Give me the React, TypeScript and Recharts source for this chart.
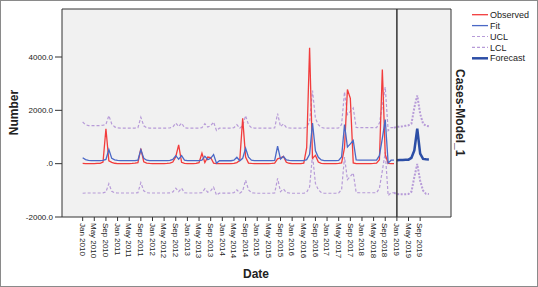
import React from "react";
import { LineChart, Line, XAxis, YAxis, CartesianGrid, ReferenceLine, ReferenceArea } from "recharts";

// month index 0 = Jan 2010
const TICK_MONTHS = [0,4,8,12,16,20,24,28,32,36,40,44,48,52,56,60,64,68,72,76,80,84,88,92,96,100,104,108,112,116];
const TICK_LABELS = [
  "Jan 2010","May 2010","Sep 2010","Jan 2011","May 2011","Sep 2011","Jan 2012","May 2012","Sep 2012",
  "Jan 2013","May 2013","Sep 2013","Jan 2014","May 2014","Sep 2014","Jan 2015","May 2015","Sep 2015",
  "Jan 2016","May 2016","Sep 2016","Jan 2017","May 2017","Sep 2017","Jan 2018","May 2018","Sep 2018",
  "Jan 2019","May 2019","Sep 2019",
];
const Y_TICKS = [-2000, 0, 2000, 4000];
const Y_TICK_LABELS = ["-2000.0", ".0", "2000.0", "4000.0"];

// Jan 2010 .. Dec 2018
const OBSERVED = [
  10,5,5,5,5,10,10,60,1310,110,50,15,
  5,5,5,5,5,10,20,40,560,70,20,10,
  5,5,5,5,5,10,20,60,260,705,50,10,
  5,5,5,10,40,390,40,250,230,20,5,5,
  5,5,5,5,10,40,120,1700,250,20,10,5,
  5,5,5,5,5,10,20,180,220,270,50,15,
  5,5,5,5,20,600,4350,200,310,60,10,5,
  5,5,5,5,10,30,600,2780,2450,30,5,5,
  5,5,5,5,10,20,150,3530,350,10,5,5,
];
const FIT = [
  220,150,120,115,115,115,115,120,160,530,200,140,
  120,115,115,115,115,115,115,130,520,200,130,115,
  115,115,115,115,115,115,120,160,300,170,300,130,
  115,115,115,115,115,130,280,150,200,340,20,110,
  110,110,110,110,130,240,110,200,580,240,130,115,
  115,115,115,115,115,115,120,660,170,270,140,120,
  115,115,115,115,115,150,350,1520,480,240,140,115,
  115,115,115,115,120,250,1470,620,740,870,140,130,
  130,130,130,130,130,130,300,950,1650,20,130,130,
];
const UCL = [
  1560,1460,1430,1430,1430,1430,1430,1440,1470,1800,1490,1380,
  1340,1335,1335,1335,1335,1335,1335,1350,1740,1420,1350,1335,
  1335,1335,1335,1335,1335,1335,1340,1380,1520,1390,1520,1350,
  1335,1335,1335,1335,1335,1350,1500,1370,1420,1560,1240,1330,
  1330,1330,1330,1330,1350,1460,1330,1420,1800,1460,1350,1335,
  1335,1335,1335,1335,1335,1335,1340,1880,1390,1490,1360,1340,
  1335,1335,1335,1335,1335,1370,1570,2740,1700,1460,1360,1335,
  1335,1335,1335,1335,1340,1470,2690,1840,1960,2090,1360,1350,
  1350,1350,1350,1350,1350,1350,1520,2170,2870,1240,1350,1350,
];
const LCL = [
  -1110,-1100,-1100,-1100,-1100,-1100,-1100,-1095,-1060,-750,-1040,-1090,
  -1100,-1100,-1100,-1100,-1100,-1100,-1100,-1085,-710,-1020,-1090,-1100,
  -1100,-1100,-1100,-1100,-1100,-1100,-1095,-1060,-920,-1050,-920,-1090,
  -1100,-1100,-1100,-1100,-1100,-1090,-940,-1070,-1020,-880,-1180,-1105,
  -1105,-1105,-1105,-1105,-1090,-980,-1105,-1020,-620,-980,-1090,-1100,
  -1110,-1110,-1110,-1110,-1110,-1110,-1100,-555,-1050,-950,-1080,-1100,
  -1110,-1110,-1110,-1110,-1110,-1070,-870,330,-740,-980,-1080,-1110,
  -1110,-1110,-1110,-1110,-1100,-970,250,-600,-480,-350,-1080,-1090,
  -1090,-1090,-1090,-1090,-1090,-1090,-920,-270,430,-1200,-1090,-1090,
];
// Jan 2019 .. Dec 2019
const FORECAST = [130,135,140,145,150,220,500,1310,380,180,165,160];
// Dec 2018 .. Dec 2019
const UCL_FORECAST = [1350,1380,1390,1400,1420,1440,1500,2100,2560,1870,1500,1420,1400];
const LCL_FORECAST = [-1090,-1140,-1145,-1145,-1145,-1140,-1050,-500,-10,-640,-1010,-1130,-1140];

const HIST_LEN = OBSERVED.length; // 108
const FC_START = HIST_LEN; // 108
const rows = Array.from({ length: HIST_LEN + FORECAST.length }, (_, m) => ({
  m,
  observed: m < HIST_LEN ? OBSERVED[m] : undefined,
  fit: m < HIST_LEN ? FIT[m] : undefined,
  ucl: m < HIST_LEN ? UCL[m] : undefined,
  lcl: m < HIST_LEN ? LCL[m] : undefined,
  forecast: m >= FC_START ? FORECAST[m - FC_START] : undefined,
  uclF: m >= FC_START - 1 ? UCL_FORECAST[m - FC_START + 1] : undefined,
  lclF: m >= FC_START - 1 ? LCL_FORECAST[m - FC_START + 1] : undefined,
}));

const FONT = '"Liberation Sans", Arial, sans-serif';
const RED = "#f23c3c";
const BLUE = "#4a68c6";
const PURPLE = "#b79bd8";
const DARKBLUE = "#2c4ea6";

const XTick = (props: any) => {
  const { x, y, payload } = props;
  const i = TICK_MONTHS.indexOf(payload.value);
  const label = i >= 0 ? TICK_LABELS[i] : "";
  return (
    <g transform={`translate(${x},${y})`}>
      <text transform="rotate(90)" x={0} y={0} dy="0.35em" textAnchor="start" fontSize={8} fontFamily={FONT} fill="#222">
        {label}
      </text>
    </g>
  );
};

const YTick = (props: any) => {
  const { x, y, payload } = props;
  const i = Y_TICKS.indexOf(payload.value);
  return (
    <text x={x} y={y} dy="0.35em" textAnchor="end" fontSize={8} fontFamily={FONT} fill="#222">
      {i >= 0 ? Y_TICK_LABELS[i] : ""}
    </text>
  );
};

const LEGEND = [
  { name: "Observed", color: RED, width: 1.3, dash: undefined },
  { name: "Fit", color: BLUE, width: 1.3, dash: undefined },
  { name: "UCL", color: PURPLE, width: 1.2, dash: "3 2" },
  { name: "LCL", color: PURPLE, width: 1.2, dash: "3 2" },
  { name: "Forecast", color: DARKBLUE, width: 2.5, dash: undefined },
];

export default function App() {
  return (
    <div style={{ position: "absolute", left: 0, top: 0, width: 538, height: 287, background: "#fff" }}>
      <LineChart width={538} height={287} data={rows} margin={{ top: 9, right: 87, bottom: 0, left: 0 }}>
        <CartesianGrid fill="#f1f1f1" horizontal={false} vertical={false} />
        <XAxis
          dataKey="m"
          type="number"
          domain={[-7.1, 126.6]}
          allowDataOverflow
          ticks={TICK_MONTHS}
          interval={0}
          height={70}
          axisLine={false}
          tickLine={{ stroke: "#333" }}
          tickSize={4}
          tickMargin={2}
          tick={(p: any) => <XTick {...p} />}
        />
        <YAxis
          type="number"
          domain={[-2000, 5800]}
          allowDataOverflow
          ticks={Y_TICKS}
          width={62}
          axisLine={false}
          tickLine={{ stroke: "#333" }}
          tickSize={7}
          tickMargin={2}
          tick={(p: any) => <YTick {...p} />}
        />
        <Line dataKey="ucl" stroke={PURPLE} strokeWidth={1.2} strokeDasharray="3 2" dot={false} isAnimationActive={false} />
        <Line dataKey="lcl" stroke={PURPLE} strokeWidth={1.2} strokeDasharray="3 2" dot={false} isAnimationActive={false} />
        <Line dataKey="uclF" stroke={PURPLE} strokeWidth={2} strokeDasharray="2 1.5" dot={false} isAnimationActive={false} />
        <Line dataKey="lclF" stroke={PURPLE} strokeWidth={2} strokeDasharray="2 1.5" dot={false} isAnimationActive={false} />
        <Line dataKey="observed" stroke={RED} strokeWidth={1.3} dot={false} isAnimationActive={false} />
        <Line dataKey="fit" stroke={BLUE} strokeWidth={1.3} dot={false} isAnimationActive={false} />
        <Line dataKey="forecast" stroke={DARKBLUE} strokeWidth={2.5} dot={false} isAnimationActive={false} />
        <ReferenceLine x={108} stroke="#333" strokeWidth={1.5} />
        <ReferenceArea x1={-7.1} x2={126.6} y1={-2000} y2={5800} fill="none" stroke="#333" strokeWidth={1} />
      </LineChart>
      <svg width={538} height={287} style={{ position: "absolute", left: 0, top: 0, pointerEvents: "none" }}>
        <rect x={0.5} y={0.5} width={537} height={286} fill="none" stroke="#8a8a8a" />
        <text transform="translate(17.5,112.5) rotate(-90)" textAnchor="middle" fontSize={12} fontWeight="bold" fontFamily={FONT} fill="#222">Number</text>
        <text x={256} y={278} textAnchor="middle" fontSize={12} fontWeight="bold" fontFamily={FONT} fill="#222">Date</text>
        <text transform="translate(456,69) rotate(90)" textAnchor="start" fontSize={12} fontWeight="bold" fontFamily={FONT} fill="#222">Cases-Model_1</text>
        {LEGEND.map((it, i) => {
          const y = 14.7 + i * 10.9;
          return (
            <g key={it.name}>
              <line x1={472} x2={488} y1={y} y2={y} stroke={it.color} strokeWidth={it.width} strokeDasharray={it.dash} />
              <text x={490} y={y} dy="0.35em" fontSize={9} fontFamily={FONT} fill="#222">{it.name}</text>
            </g>
          );
        })}
      </svg>
    </div>
  );
}
